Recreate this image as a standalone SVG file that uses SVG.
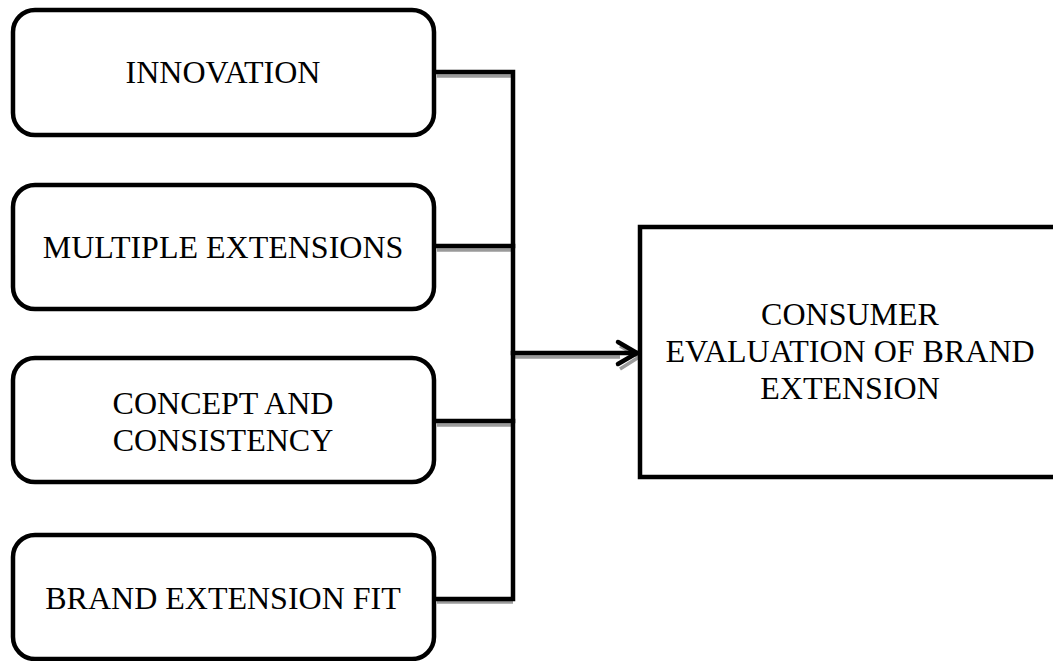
<svg xmlns="http://www.w3.org/2000/svg" width="1053" height="661" viewBox="0 0 1053 661">
<style>
.box{fill:#fff;stroke:#000;stroke-width:4.5}
.t{font-family:"Liberation Serif","Times New Roman",serif;font-size:32px;fill:#000;text-anchor:middle}
.c{fill:none;stroke:#000;stroke-width:4.5;stroke-linecap:square}
.s{fill:none;stroke:#9a9a9a;stroke-width:3.5}
</style>
<rect width="1053" height="661" fill="#fff"/>
<g id="connectors">
<line class="s" x1="437" y1="76" x2="511" y2="76"/>
<line class="s" x1="437" y1="250" x2="511" y2="250"/>
<line class="s" x1="437" y1="425" x2="511" y2="425"/>
<line class="s" x1="437" y1="602" x2="513" y2="602"/>
<line class="s" x1="515" y1="357" x2="620" y2="357"/>
<polyline class="s" points="620,346 639,357 620,369"/>
<polyline class="c" points="435,72 513,72 513,599 435,599"/>
<line class="c" x1="435" y1="246" x2="513" y2="246"/>
<line class="c" x1="435" y1="421" x2="513" y2="421"/>
<line class="c" x1="513" y1="353" x2="636" y2="353"/>
<polyline class="c" points="618,342 637,353 618,364" style="stroke-linecap:round;stroke-linejoin:miter"/>
</g>
<g id="innovation">
<rect class="box" x="13" y="10" width="421" height="125" rx="22"/>
<text class="t" x="223" y="83">INNOVATION</text>
</g>
<g id="multiple-extensions">
<rect class="box" x="13" y="185" width="421" height="124" rx="22"/>
<text class="t" x="223" y="258">MULTIPLE EXTENSIONS</text>
</g>
<g id="concept-consistency">
<rect class="box" x="13" y="358" width="421" height="124" rx="22"/>
<text class="t" x="223" y="414">CONCEPT AND</text>
<text class="t" x="223" y="451">CONSISTENCY</text>
</g>
<g id="brand-extension-fit">
<rect class="box" x="13" y="535" width="421" height="124" rx="22"/>
<text class="t" x="223" y="609">BRAND EXTENSION FIT</text>
</g>
<g id="consumer-evaluation">
<rect class="box" x="640" y="227" width="420" height="250"/>
<text class="t" x="850" y="325">CONSUMER</text>
<text class="t" x="850" y="362">EVALUATION OF BRAND</text>
<text class="t" x="850" y="399">EXTENSION</text>
</g>
</svg>
